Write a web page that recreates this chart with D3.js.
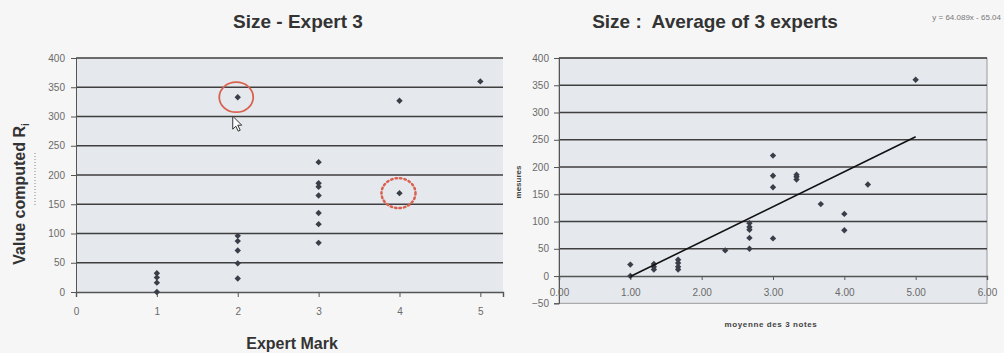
<!DOCTYPE html>
<html>
<head>
<meta charset="utf-8">
<script src="https://cdn.jsdelivr.net/npm/d3@7"></script>
<style>
  body { margin: 0; background: #f6f6f6; }
  svg { display: block; font-family: "Liberation Sans", Arial, sans-serif; }
  .tick text { fill: #6a6a6a; font-size: 10px; }
</style>
</head>
<body>
<div id="chart"></div>
<script>
// left chart: Size - Expert 3
var leftX = [1, 1, 1, 1, 2, 2, 2, 2, 2, 2, 3, 3, 3, 3, 3, 3, 3, 4, 4, 5];
var leftY = [32, 25, 16, 0, 333, 96, 87, 71, 49, 23, 222, 186, 180, 165, 135, 116, 84, 327, 169, 360];
var leftXTicks = [0, 1, 2, 3, 4, 5];
var leftYTicks = [0, 50, 100, 150, 200, 250, 300, 350, 400];

// right chart: average of 3 experts
var rightX = [1, 1, 1.33, 1.33, 1.33, 1.67, 1.67, 1.67, 1.67, 2.33,
  2.67, 2.67, 2.67, 2.67, 2.67, 3, 3, 3, 3, 3.33, 3.33, 3.33, 3.67, 4, 4, 4.33, 5];
var rightY = [21, 0, 22, 17, 12, 30, 24, 17, 12, 47,
  97, 90, 85, 70, 50, 221, 184, 163, 69, 186, 182, 177, 132, 114, 84, 168, 360];
var rightXTicks = [0, 1, 2, 3, 4, 5, 6];
var rightYTicks = [-50, 0, 50, 100, 150, 200, 250, 300, 350, 400];
var trendX = [1, 5];
var slope = 64.089, intercept = -65.04;

var width = 1004, height = 353;
var plotFill = "#e5e8ed";
var gridColor = "#3f3f3f";
var dotColor = "#3a3e48";

var svg = d3.select("#chart").append("svg")
  .attr("width", width).attr("height", height);

var diamond = d3.symbol().type(d3.symbolDiamond2).size(26);

/* ---- Left chart ---- */
var xL = d3.scaleLinear().domain([0, 5.28]).range([76, 503]);
var yL = d3.scaleLinear().domain([0, 400]).range([292, 58]);

svg.append("rect")
  .attr("x", xL(0)).attr("y", yL(400))
  .attr("width", xL(5.28) - xL(0)).attr("height", yL(0) - yL(400))
  .attr("fill", plotFill);

svg.append("g").selectAll("line")
  .data(leftYTicks.filter(d => d > 0))
  .enter().append("line")
  .attr("x1", xL(0)).attr("x2", xL(5.28))
  .attr("y1", d => yL(d)).attr("y2", d => yL(d))
  .attr("stroke", gridColor).attr("stroke-width", 1.4);

var axL = svg.append("g")
  .attr("transform", `translate(${xL(0)},0)`)
  .call(d3.axisLeft(yL).tickValues(leftYTicks).tickSize(5).tickPadding(6));
axL.select(".domain").attr("stroke", "#555");
axL.selectAll(".tick line").attr("stroke", "#555");

var axLx = svg.append("g")
  .attr("transform", `translate(0,${yL(0)})`)
  .call(d3.axisBottom(xL).tickValues(leftXTicks).tickFormat(d3.format("d")).tickSize(5).tickPadding(11));
axLx.select(".domain").attr("stroke", "#555").attr("stroke-width", 1.4);
axLx.selectAll(".tick line").attr("stroke", "#555");

svg.append("g").selectAll("path")
  .data(leftX.map((d, i) => [d, leftY[i]]))
  .enter().append("path")
  .attr("d", diamond)
  .attr("transform", d => `translate(${xL(d[0])},${yL(d[1])})`)
  .attr("fill", dotColor);

// red marks round two points
svg.append("ellipse")
  .attr("cx", xL(2) - 1.5).attr("cy", yL(333))
  .attr("rx", 17).attr("ry", 15)
  .attr("fill", "none").attr("stroke", "#d9614f").attr("stroke-width", 1.8);

svg.append("ellipse")
  .attr("cx", xL(4) - 1).attr("cy", yL(169))
  .attr("rx", 17).attr("ry", 15)
  .attr("fill", "none").attr("stroke", "#d9614f").attr("stroke-width", 2.5)
  .attr("stroke-dasharray", "1.5,3").attr("stroke-linecap", "round");

// mouse pointer
svg.append("path")
  .attr("d", "M0,0 L0,13 L3,10 L5.5,15 L7.5,14 L5,9 L9,9 Z")
  .attr("transform", `translate(${xL(2) - 5},${yL(333) + 19})`)
  .attr("fill", "#fff").attr("stroke", "#333").attr("stroke-width", 1);

svg.append("text")
  .attr("x", 298).attr("y", 28)
  .attr("text-anchor", "middle")
  .attr("font-size", 19).attr("font-weight", "bold").attr("fill", "#333")
  .text("Size - Expert 3");

svg.append("text")
  .attr("x", 292).attr("y", 349)
  .attr("text-anchor", "middle")
  .attr("font-size", 16).attr("font-weight", "bold").attr("fill", "#333")
  .text("Expert Mark");

var yTitle = svg.append("text")
  .attr("transform", "translate(25,194) rotate(-90)")
  .attr("text-anchor", "middle")
  .attr("font-size", 16).attr("font-weight", "bold").attr("fill", "#333");
yTitle.append("tspan").text("Value computed R");
yTitle.append("tspan").attr("font-size", 10).attr("dy", 4).text("i");

svg.append("line")
  .attr("x1", 35).attr("x2", 35).attr("y1", 153).attr("y2", 207)
  .attr("stroke", "#999").attr("stroke-width", 1.2).attr("stroke-dasharray", "1,2");

/* ---- Right chart ---- */
var xR = d3.scaleLinear().domain([0, 6]).range([559, 987]);
var yR = d3.scaleLinear().domain([-50, 400]).range([303.3, 58]);

svg.append("rect")
  .attr("x", xR(0)).attr("y", yR(400))
  .attr("width", xR(6) - xR(0)).attr("height", yR(-50) - yR(400))
  .attr("fill", plotFill).attr("stroke", "#9a9a9a").attr("stroke-width", 1);

svg.append("g").selectAll("line")
  .data(rightYTicks.filter(d => d > 0))
  .enter().append("line")
  .attr("x1", xR(0)).attr("x2", xR(6))
  .attr("y1", d => yR(d)).attr("y2", d => yR(d))
  .attr("stroke", gridColor).attr("stroke-width", 1.4);

var axR = svg.append("g")
  .attr("transform", `translate(${xR(0)},0)`)
  .call(d3.axisLeft(yR).tickValues(rightYTicks).tickSize(5).tickPadding(5));
axR.select(".domain").attr("stroke", "#555");
axR.selectAll(".tick line").attr("stroke", "#555");

var axRx = svg.append("g")
  .attr("transform", `translate(0,${yR(0)})`)
  .call(d3.axisBottom(xR).tickValues(rightXTicks).tickFormat(d3.format(".2f")).tickSize(4).tickPadding(9));
axRx.select(".domain").attr("stroke", "#555").attr("stroke-width", 1.4);
axRx.selectAll(".tick line").attr("stroke", "#555");

svg.append("g").selectAll("path")
  .data(rightX.map((d, i) => [d, rightY[i]]))
  .enter().append("path")
  .attr("d", diamond)
  .attr("transform", d => `translate(${xR(d[0])},${yR(d[1])})`)
  .attr("fill", dotColor);

var trend = d3.line()
  .x(d => xR(d))
  .y(d => yR(slope * d + intercept));

svg.append("path")
  .attr("d", trend(trendX))
  .attr("fill", "none").attr("stroke", "#111").attr("stroke-width", 1.6);

svg.append("text")
  .attr("x", 715).attr("y", 28)
  .attr("text-anchor", "middle")
  .attr("font-size", 19).attr("font-weight", "bold").attr("fill", "#333")
  .attr("xml:space", "preserve")
  .text("Size :  Average of 3 experts");

svg.append("text")
  .attr("x", 1001).attr("y", 20)
  .attr("text-anchor", "end")
  .attr("font-size", 8).attr("fill", "#777")
  .text("y = 64.089x - 65.04");

svg.append("text")
  .attr("x", 771).attr("y", 327)
  .attr("text-anchor", "middle")
  .attr("font-size", 8).attr("font-weight", "bold").attr("fill", "#444")
  .attr("letter-spacing", 0.6)
  .text("moyenne des 3 notes");

svg.append("text")
  .attr("transform", "translate(521,182) rotate(-90)")
  .attr("text-anchor", "middle")
  .attr("font-size", 8).attr("font-weight", "bold").attr("fill", "#444")
  .text("mesures");
</script>
</body>
</html>
